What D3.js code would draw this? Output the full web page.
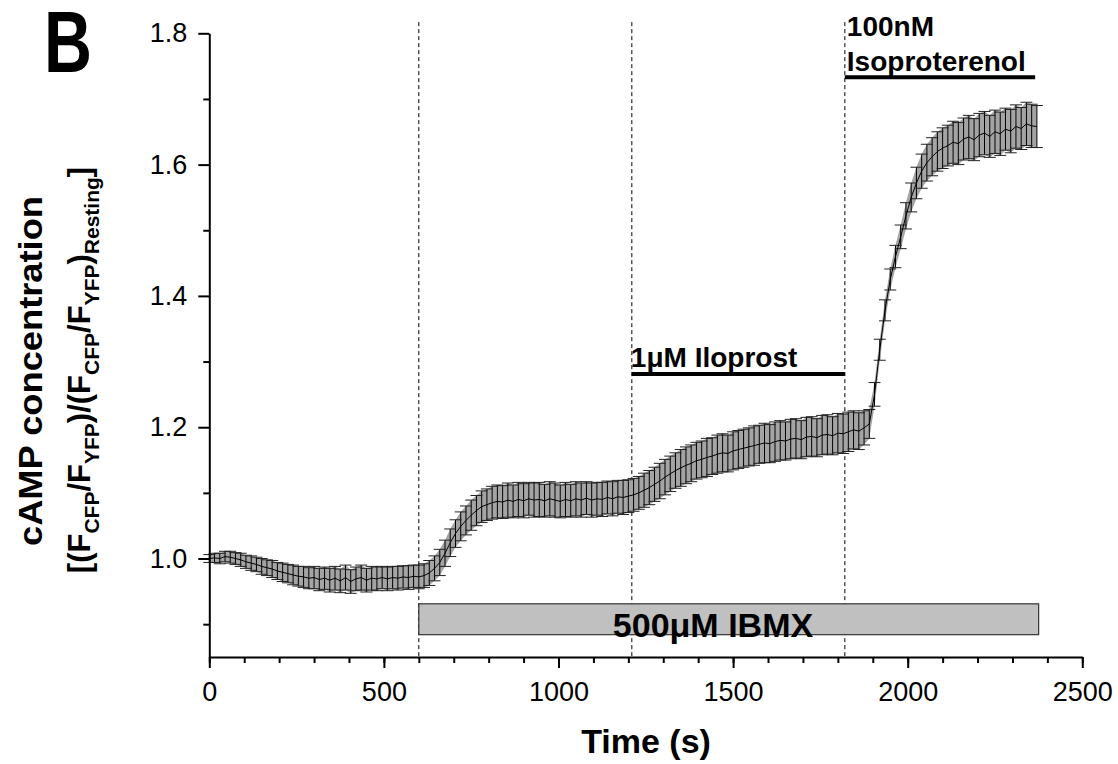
<html>
<script src="https://d3js.org/d3.v7.min.js"></script>
<style>
  body { margin: 0; background: #fff; }
  text { font-family: "Liberation Sans", Arial, sans-serif; }
</style>
<body>
<svg class="chart" width="1118" height="764"></svg>
<script>
// normalised FRET ratio, one reading every 15 s
var meanBaseline = [1.000,1.001,1.000,1.003,1.002,1.000,0.998,0.995,0.993,0.991,
  0.988,0.986,0.984,0.981,0.979,0.977,0.975,0.973,0.972,0.970,
  0.971,0.968,0.970,0.967,0.970,0.966,0.971,0.965,0.969,0.971,
  0.967,0.970,0.969,0.971,0.969,0.971,0.970,0.972,0.971,0.973,0.972];
var meanIBMX = [0.974,0.978,0.985,0.994,1.008,1.024,1.038,1.049,1.058,1.066,
  1.073,1.079,1.082,1.085,1.087,1.086,1.089,1.087,1.090,1.088,
  1.091,1.089,1.090,1.088,1.091,1.089,1.087,1.090,1.088,1.091,
  1.089,1.092,1.089,1.091,1.090,1.093,1.091,1.094,1.093,1.095];
var meanIloprost = [1.097,1.100,1.104,1.108,1.113,1.118,1.124,1.129,1.134,1.138,
  1.142,1.145,1.149,1.151,1.154,1.156,1.159,1.161,1.160,1.164,
  1.166,1.168,1.170,1.172,1.174,1.176,1.175,1.178,1.180,1.179,
  1.182,1.183,1.181,1.185,1.186,1.184,1.188,1.189,1.187,1.191,1.190];
var meanIso = [1.193,1.196,1.194,1.199,1.205,1.250,1.318,1.378,1.425,1.460,
  1.490,1.522,1.550,1.572,1.590,1.603,1.612,1.620,1.625,1.629,
  1.634,1.632,1.639,1.642,1.638,1.645,1.648,1.643,1.650,1.647,
  1.654,1.651,1.658,1.655,1.662,1.659,1.658];

// SEM for the same readings
var semBaseline = [0.006,0.007,0.008,0.008,0.009,0.009,0.010,0.010,0.011,0.011,
  0.012,0.012,0.013,0.013,0.014,0.014,0.015,0.015,0.016,0.016,
  0.017,0.017,0.017,0.018,0.018,0.018,0.019,0.018,0.018,0.019,
  0.018,0.018,0.018,0.017,0.018,0.017,0.018,0.017,0.018,0.017,0.018];
var semIBMX = [0.018,0.019,0.019,0.020,0.020,0.021,0.021,0.022,0.022,0.023,
  0.023,0.024,0.024,0.025,0.025,0.025,0.026,0.025,0.026,0.026,
  0.025,0.026,0.026,0.025,0.026,0.026,0.025,0.026,0.025,0.026,
  0.026,0.025,0.026,0.025,0.026,0.025,0.026,0.025,0.026,0.025];
var semIloprost = [0.025,0.025,0.026,0.026,0.026,0.027,0.027,0.027,0.027,0.028,
  0.028,0.028,0.028,0.028,0.029,0.028,0.029,0.029,0.028,0.029,
  0.029,0.029,0.029,0.030,0.029,0.030,0.029,0.030,0.030,0.029,
  0.030,0.030,0.029,0.030,0.030,0.029,0.030,0.030,0.029,0.030,0.030];
var semIso = [0.030,0.029,0.028,0.026,0.022,0.018,0.016,0.016,0.016,0.017,
  0.018,0.020,0.022,0.024,0.026,0.028,0.029,0.030,0.031,0.031,
  0.032,0.032,0.032,0.033,0.032,0.033,0.033,0.032,0.033,0.033,
  0.032,0.033,0.033,0.032,0.033,0.033,0.032];

var sampleStep = 15;
var drugTimes = [600, 1210, 1820];
var ibmxStart = 600, ibmxEnd = 2375;
var iloprostLine = [1210, 1820], iloprostLevel = 1.281;
var isoLine = [1820, 2365], isoLevel = 1.733;
var xMajor = [0, 500, 1000, 1500, 2000, 2500];
var xMinor = d3.range(0, 2501, 100);
var yMajor = [1.0, 1.2, 1.4, 1.6, 1.8];
var yMinor = [0.9, 1.1, 1.3, 1.5, 1.7];

var means = meanBaseline.concat(meanIBMX, meanIloprost, meanIso);
var sems = semBaseline.concat(semIBMX, semIloprost, semIso);
var data = means.map(function(m, i) { return {t: i * sampleStep, m: m, s: sems[i]}; });

var x = d3.scaleLinear().domain([0, 2500]).range([209.3, 1082.3]);
var y = d3.scaleLinear().domain([0.85, 1.8]).range([657, 33.3]);

var svg = d3.select(".chart");
svg.append("rect").attr("width", 1118).attr("height", 764).attr("fill", "#fff");

// dashed markers for each drug addition
svg.append("g").selectAll("line").data(drugTimes).enter().append("line")
  .attr("x1", d => x(d)).attr("x2", d => x(d))
  .attr("y1", y(1.817)).attr("y2", y(0.85))
  .attr("stroke", "#000").attr("stroke-width", 1)
  .attr("stroke-dasharray", "4,3");

// error band + bars
svg.append("path").datum(data)
  .attr("fill", "#a4a4a4")
  .attr("d", d3.area().x(d => x(d.t)).y0(d => y(d.m - d.s)).y1(d => y(d.m + d.s)));

var bars = svg.append("g");
bars.selectAll(".stem").data(data).enter().append("line")
  .attr("x1", d => x(d.t)).attr("x2", d => x(d.t))
  .attr("y1", d => y(d.m - d.s)).attr("y2", d => y(d.m + d.s))
  .attr("stroke", "#000").attr("stroke-width", 1);
bars.selectAll(".capTop").data(data).enter().append("line")
  .attr("x1", d => x(d.t) - 6).attr("x2", d => x(d.t) + 6)
  .attr("y1", d => y(d.m + d.s)).attr("y2", d => y(d.m + d.s))
  .attr("stroke", "#222").attr("stroke-width", 1);
bars.selectAll(".capBot").data(data).enter().append("line")
  .attr("x1", d => x(d.t) - 6).attr("x2", d => x(d.t) + 6)
  .attr("y1", d => y(d.m - d.s)).attr("y2", d => y(d.m - d.s))
  .attr("stroke", "#222").attr("stroke-width", 1);

svg.append("path").datum(data)
  .attr("fill", "none").attr("stroke", "#000").attr("stroke-width", 1)
  .attr("d", d3.line().x(d => x(d.t)).y(d => y(d.m)));

// IBMX bar
svg.append("rect")
  .attr("x", x(ibmxStart)).attr("width", x(ibmxEnd) - x(ibmxStart))
  .attr("y", y(0.931)).attr("height", y(0.884) - y(0.931))
  .attr("fill", "#c0c0c0").attr("stroke", "#333").attr("stroke-width", 1.2);
svg.append("text").attr("x", 713).attr("y", 637)
  .attr("text-anchor", "middle").attr("font-size", 34).attr("font-weight", "bold")
  .text("500\u03bcM IBMX");

// iloprost + isoproterenol bars
svg.append("line").attr("x1", x(iloprostLine[0])).attr("x2", x(iloprostLine[1]))
  .attr("y1", y(iloprostLevel)).attr("y2", y(iloprostLevel))
  .attr("stroke", "#000").attr("stroke-width", 4);
svg.append("text").attr("x", x(iloprostLine[0]) - 1).attr("y", y(iloprostLevel) - 7)
  .attr("font-size", 28).attr("font-weight", "bold").text("1\u03bcM Iloprost");

svg.append("line").attr("x1", x(isoLine[0])).attr("x2", x(isoLine[1]))
  .attr("y1", y(isoLevel)).attr("y2", y(isoLevel))
  .attr("stroke", "#000").attr("stroke-width", 4);
svg.append("text").attr("x", x(isoLine[0]) + 2).attr("y", 36)
  .attr("font-size", 28).attr("font-weight", "bold").text("100nM");
svg.append("text").attr("x", x(isoLine[0]) + 2).attr("y", 71)
  .attr("font-size", 28).attr("font-weight", "bold").text("Isoproterenol");

// axes
function styleAxis(g) {
  g.attr("font-family", null).attr("font-size", null);
  g.selectAll("path, line").attr("stroke", "#000").attr("stroke-width", 2);
  g.selectAll("text").attr("font-size", 27).attr("fill", "#000");
}
svg.append("g").attr("transform", "translate(0,657)")
  .call(d3.axisBottom(x).tickValues(xMinor).tickSize(6).tickSizeOuter(0).tickFormat(""))
  .call(g => g.select(".domain").remove())
  .call(styleAxis);
svg.append("g").attr("transform", "translate(0,657)")
  .call(d3.axisBottom(x).tickValues(xMajor).tickSize(11).tickPadding(14).tickSizeOuter(0).tickFormat(d3.format("d")))
  .call(styleAxis);
svg.append("g").attr("transform", "translate(209.3,0)")
  .call(d3.axisLeft(y).tickValues(yMinor).tickSize(6).tickSizeOuter(0).tickFormat(""))
  .call(g => g.select(".domain").remove())
  .call(styleAxis);
svg.append("g").attr("transform", "translate(209.3,0)")
  .call(d3.axisLeft(y).tickValues(yMajor).tickSize(11).tickPadding(11).tickSizeOuter(0).tickFormat(d3.format(".1f")))
  .call(styleAxis);

// titles
svg.append("text").attr("x", 646).attr("y", 753)
  .attr("text-anchor", "middle").attr("font-size", 34).attr("font-weight", "bold")
  .text("Time (s)");

var yt = svg.append("g").attr("transform", "rotate(-90)").attr("font-weight", "bold");
yt.append("text").attr("x", -371).attr("y", 42).attr("text-anchor", "middle")
  .attr("font-size", 33).attr("textLength", 350).attr("lengthAdjust", "spacingAndGlyphs")
  .text("cAMP concentration");
var l2 = yt.append("text").attr("x", -370).attr("y", 90).attr("text-anchor", "middle").attr("font-size", 31);
var parts = [["[(F", 0], ["CFP", 1], ["/F", 0], ["YFP", 1], [")/(F", 0], ["CFP", 1],
             ["/F", 0], ["YFP", 1], [")", 0], ["Resting", 1], ["]", 0]];
var prevSub = 0;
parts.forEach(function(p) {
  var dy = p[1] === prevSub ? 0 : (p[1] ? 9 : -9);
  l2.append("tspan").attr("dy", dy).attr("font-size", p[1] ? 21 : 31).text(p[0]);
  prevSub = p[1];
});

svg.append("text").attr("x", 44).attr("y", 72)
  .attr("font-family", "Lato, 'Open Sans', sans-serif").attr("font-weight", 900)
  .attr("font-size", 87).attr("textLength", 48).attr("lengthAdjust", "spacingAndGlyphs")
  .text("B");
</script>
</body>
</html>
